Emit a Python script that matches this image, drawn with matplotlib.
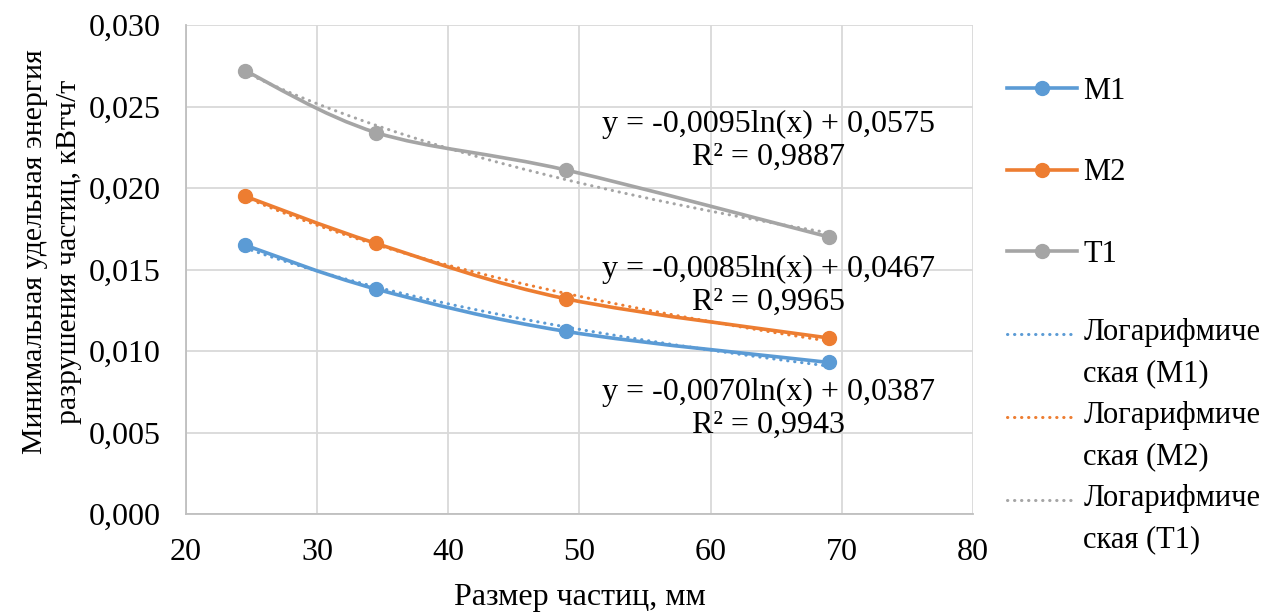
import numpy as np
import matplotlib
matplotlib.use("Agg")
import matplotlib.pyplot as plt
from matplotlib.path import Path
from matplotlib.patches import PathPatch
from matplotlib.lines import Line2D
from matplotlib.legend_handler import HandlerLine2D

plt.rcParams['font.family'] = ['Liberation Serif', 'DejaVu Serif']

# %% data
size_mm = [24.5, 34.5, 49, 69]
m1 = [0.0165, 0.0138, 0.0112, 0.0093]
m2 = [0.0195, 0.0166, 0.0132, 0.0108]
t1 = [0.0272, 0.0234, 0.0211, 0.0170]
series_names = ['M1', 'M2', 'T1']
series_vals = [m1, m2, t1]
colors = ['#5B9BD5', '#ED7D31', '#A5A5A5']
eq_labels = ['y = -0,0070ln(x) + 0,0387\nR² = 0,9943',
             'y = -0,0085ln(x) + 0,0467\nR² = 0,9965',
             'y = -0,0095ln(x) + 0,0575\nR² = 0,9887']
eq_pos = [(64.4, 0.00645), (64.4, 0.0140), (64.4, 0.0229)]
trend_name = 'Логарифмиче\nская ({})'

FS = 23
LFS = 22


def smooth_path(x, y):
    # Excel-like smoothed line: cubic Bezier segments, Catmull-Rom controls
    x = np.asarray(x, float); y = np.asarray(y, float)
    px = np.r_[x[0], x, x[-1]]; py = np.r_[y[0], y, y[-1]]
    verts = [(x[0], y[0])]
    codes = [Path.MOVETO]
    for i in range(1, len(x)):
        c1 = (px[i] + (px[i + 1] - px[i - 1]) / 6, py[i] + (py[i + 1] - py[i - 1]) / 6)
        c2 = (px[i + 1] - (px[i + 2] - px[i]) / 6, py[i + 1] - (py[i + 2] - py[i]) / 6)
        verts += [c1, c2, (px[i + 1], py[i + 1])]
        codes += [Path.CURVE4] * 3
    return Path(verts, codes)


class TopLineHandler(HandlerLine2D):
    # put the legend sample level with the first line of a two-line label
    def create_artists(self, legend, orig_handle, xdescent, ydescent, width, height,
                       fontsize, trans):
        arts = super().create_artists(legend, orig_handle, xdescent, ydescent, width,
                                      height, fontsize, trans)
        for a in arts:
            a.set_ydata(np.asarray(a.get_ydata()) + 14)
        return arts


# %% plot
fig = plt.figure(figsize=(12.87, 6.15), dpi=100)
ax = fig.add_axes([0.1445, 0.1642, 0.6115, 0.7951])

xs = np.array(size_mm)
xx = np.linspace(xs.min(), xs.max(), 200)
handles, labels = [], []
trend_handles, trend_labels = [], []
for name, vals, c, eq, pos in zip(series_names, series_vals, colors, eq_labels, eq_pos):
    k, b = np.polyfit(np.log(xs), vals, 1)
    ax.plot(xx, k * np.log(xx) + b, color=c, lw=2.2, linestyle=(0, (0.1, 2.2)),
            dash_capstyle='round', zorder=2)
    ax.add_patch(PathPatch(smooth_path(xs, vals), fill=False, edgecolor=c, lw=2.6,
                           zorder=3, capstyle='round'))
    ax.plot(xs, vals, 'o', color=c, markersize=10, zorder=4)
    handles.append(Line2D([], [], color=c, lw=2.6, marker='o', markersize=10))
    labels.append(name)
    trend_handles.append(Line2D([], [], color=c, lw=2.2, linestyle=(0, (0.1, 2.2)),
                                dash_capstyle='round'))
    trend_labels.append(trend_name.format(name))
    ax.text(pos[0], pos[1], eq, ha='center', va='center', multialignment='center',
            fontsize=FS, linespacing=1.15, zorder=5)

ax.set_xlim(20, 80)
ax.set_ylim(0, 0.030)
ax.set_xticks(np.arange(20, 81, 10))
ax.set_yticks(np.arange(0, 0.0301, 0.005))
ax.set_yticklabels([f'{v:.3f}'.replace('.', ',') for v in np.arange(0, 0.0301, 0.005)])
ax.tick_params(length=0, labelsize=FS)
ax.tick_params(axis='y', pad=18)
ax.tick_params(axis='x', pad=17)
ax.grid(True, color='#D9D9D9', lw=1.3, zorder=0)
ax.set_axisbelow(True)
for s in ['top', 'right']:
    ax.spines[s].set_visible(False)
for s in ['left', 'bottom']:
    ax.spines[s].set_color('#BFBFBF')
    ax.spines[s].set_linewidth(1.3)

ax.set_xlabel('Размер частиц, мм', fontsize=FS, labelpad=12)
ax.set_ylabel('Минимальная удельная энергия\nразрушения частиц, кВтч/т', fontsize=21.5,
              linespacing=1.38)
ax.yaxis.set_label_coords(-0.132, 0.537)

leg1 = fig.legend(handles, labels, loc='upper left', bbox_to_anchor=(0.7825, 0.875),
                  frameon=False, fontsize=LFS, borderpad=0, borderaxespad=0,
                  handlelength=2.3, handletextpad=0.2, labelspacing=1.72)
leg2 = fig.legend(trend_handles, trend_labels, loc='upper left',
                  bbox_to_anchor=(0.7825, 0.483), frameon=False, fontsize=LFS,
                  borderpad=0, borderaxespad=0, handlelength=2.3, handletextpad=0.2,
                  labelspacing=0.42, handler_map={Line2D: TopLineHandler()})
for t in leg2.get_texts():
    t.set_linespacing(1.55)

fig.savefig('out.png', dpi=100)
